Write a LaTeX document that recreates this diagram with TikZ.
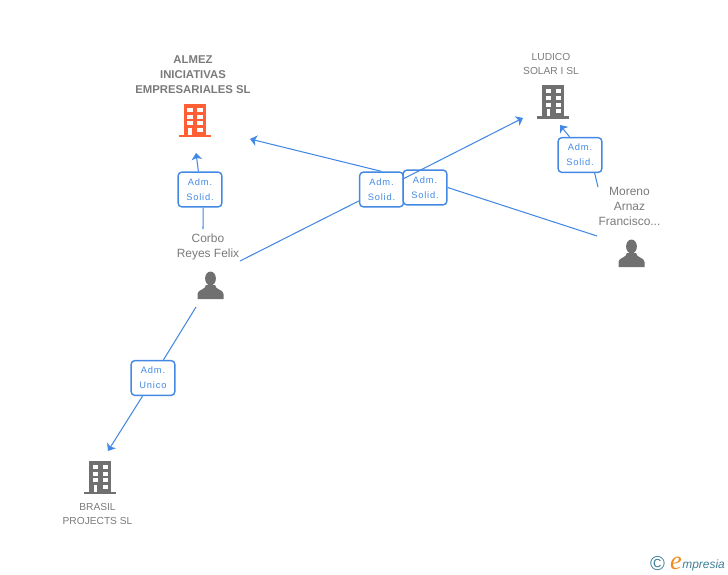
\documentclass[tikz,border=0pt]{standalone}
\usepackage{fontspec}
\setmainfont{Liberation Sans}
\newfontfamily\boxfont[LetterSpace=9]{Liberation Sans}
\newfontfamily\logofont{Liberation Sans}
\definecolor{linkblue}{HTML}{4389E4}
\definecolor{textgrey}{HTML}{7A7A7A}
\definecolor{icongrey}{HTML}{707070}
\definecolor{iconred}{HTML}{FF5F33}
\definecolor{logoteal}{HTML}{3F7F97}
\definecolor{logoorange}{HTML}{F08A1C}
\tikzset{
	pics/building/.style={code={
		\fill[#1] (-11,-33)rectangle(11,0);
		\fill[#1] (-16,-2)rectangle(16,0.5);
		\foreach \yy in {-29,-22,-15.4}{
			\fill[white] (-7.6,\yy)rectangle(-2.4,\yy+4.2);
			\fill[white] (2.4,\yy)rectangle(7.6,\yy+4.2);
		}
		\fill[white] (-6.8,-9)rectangle(-3,-2);
		\fill[white] (2.4,-9)rectangle(7.6,-4.7);
	}},
	pics/person/.style={code={
		\fill[#1] (0,-20.5) circle[x radius=5.4,y radius=7];
		\fill[#1] (-13,0)--(-13,-5) .. controls (-13,-9.5) and (-5,-9) .. (-4.5,-14)--(4.5,-14) .. controls (5,-9) and (13,-9.5) .. (13,-5)--(13,0)--cycle;
	}},
	rolebox/.style={draw=linkblue,line width=0.8pt,fill=white,rounded corners=2.2pt,minimum width=44\unitpx,minimum height=35\unitpx,inner sep=0pt,align=center,text=linkblue,font=\boxfont\fontsize{5.3pt}{8.6pt}\selectfont},
	namelabel/.style={align=center,text=textgrey,font=\fontsize{6.8pt}{8.5pt}\selectfont},
	firmlabel/.style={namelabel,font=\fontsize{5.8pt}{8.5pt}\selectfont},
	link/.style={linkblue,line width=0.6pt},
	linkto/.style={link,->,>={Stealth[length=3.8pt,width=6pt,inset=1pt]}}
}
\newcommand{\unitpx}{*0.5669pt}
\usetikzlibrary{arrows.meta}
\begin{document}
\begin{tikzpicture}[x=0.02cm,y=-0.02cm]
	\useasboundingbox (0,0)rectangle(728,575);
	% companies
	\node[namelabel,font=\bfseries\fontsize{6.45pt}{8.5pt}\selectfont] (almez) at (193,75) {ALMEZ\\INICIATIVAS\\EMPRESARIALES SL};
	\node[firmlabel] (ludico) at (551,64) {LUDICO\\SOLAR I SL};
	\node[firmlabel] (brasil) at (97.5,514) {BRASIL\\PROJECTS SL};
	\pic (almezicon) at (195,136.5) {building=iconred};
	\pic (ludicoicon) at (553.3,118) {building=icongrey};
	\pic (brasilicon) at (100.3,493.5) {building=icongrey};
	% people
	\node[namelabel] (corbo) at (208,247) {Corbo\\Reyes Felix};
	\node[namelabel] (moreno) at (629.5,206.5) {Moreno\\Arnaz\\Francisco...};
	\pic (corboicon) at (210.5,299) {person=icongrey};
	\pic (morenoicon) at (631.5,267) {person=icongrey};
	% role boxes
	\node[rolebox] (boxalmez) at (200,189.5) {Adm.\\Solid.};
	\node[rolebox] (boxA) at (381.5,189.5) {Adm.\\Solid.};
	\node[rolebox] (boxB) at (425,187.5) {Adm.\\Solid.};
	\node[rolebox] (boxludico) at (580,155) {Adm.\\Solid.};
	\node[rolebox] (boxunico) at (153,378) {Adm.\\Unico};
	% free ends
	\coordinate (corbotop) at (203,229);
	\coordinate (corboright) at (240,261);
	\coordinate (corbobottom) at (196,307);
	\coordinate (morenotop) at (598,187);
	\coordinate (morenoleft) at (597,236);
	\coordinate (almeztip) at (196,153);
	\coordinate (almezright) at (250,139);
	\coordinate (ludicoleft) at (523,118);
	\coordinate (ludicotip) at (560,125);
	\coordinate (brasiltip) at (108,451);
	% connectors
	\draw[link] (corbotop)--(boxalmez.-80);
	\draw[linkto] (boxalmez.95)--(almeztip);
	\draw[link] (corboright)--(boxA);
	\draw[linkto] (boxA.north)--(almezright);
	\draw[link] (morenoleft)--(boxB.east);
	\draw[linkto] (boxB.160)--(ludicoleft);
	\draw[link] (morenotop)--(boxludico.-51);
	\draw[linkto] (boxludico.120)--(ludicotip);
	\draw[link] (corbobottom)--(boxunico.60);
	\draw[linkto] (boxunico.-120)--(brasiltip);
	% logo
	\node[text=logoteal,inner sep=0pt,font=\logofont\fontsize{11.5pt}{12pt}\selectfont] (logoc) at (657.5,564) {©};
	\node[text=logoorange,inner sep=0pt,font=\fontspec{Liberation Serif}\itshape\fontsize{15pt}{15pt}\selectfont] (logoe) at (676,563) {e};
	\node[text=logoteal,inner sep=0pt,anchor=west,font=\itshape\fontsize{6.8pt}{8pt}\selectfont] (logotxt) at (682,565) {mpresia};
\end{tikzpicture}
\end{document}
